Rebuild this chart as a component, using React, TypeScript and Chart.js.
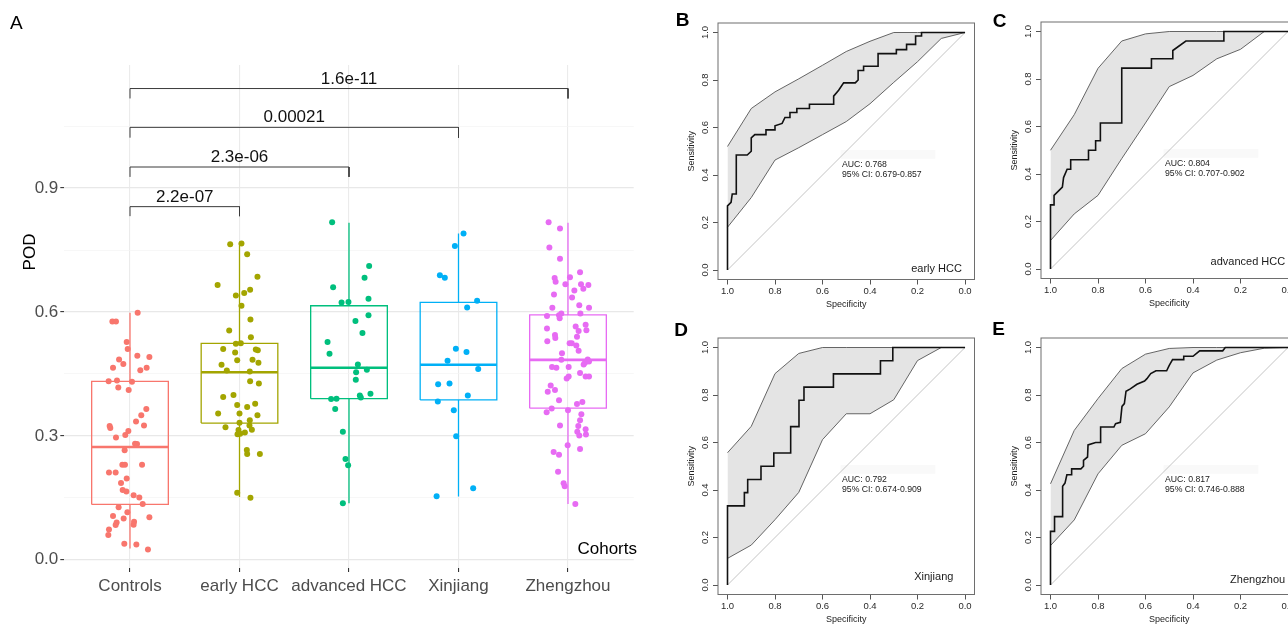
import React, { useEffect, useRef } from "react";
import { Chart, registerables } from "chart.js";
Chart.register(...registerables);

const FONT = "'Liberation Sans', Arial, Helvetica, sans-serif";

// ---------------- Panel A data ----------------
const CATEGORIES = ["Controls", "early HCC", "advanced HCC", "Xinjiang", "Zhengzhou"];
const GROUP_COLORS = ["#F8766D", "#A3A500", "#00BF7D", "#00B0F6", "#E76BF3"];
const Q1 = [0.134, 0.331, 0.39, 0.387, 0.367];
const MEDIAN = [0.273, 0.454, 0.465, 0.472, 0.484];
const Q3 = [0.432, 0.524, 0.615, 0.623, 0.593];
const WHISKER_LOW = [0.027, 0.152, 0.137, 0.153, 0.135];
const WHISKER_HIGH = [0.598, 0.766, 0.816, 0.79, 0.816];

const CONTROLS_POD = [0.598,0.577,0.577,0.527,0.51,0.494,0.491,0.485,0.474,0.465,0.465,0.459,0.432,0.434,0.431,0.417,0.411,0.365,0.35,0.335,0.324,0.319,0.325,0.312,0.302,0.296,0.281,0.28,0.265,0.23,0.23,0.23,0.211,0.211,0.197,0.186,0.169,0.165,0.156,0.151,0.135,0.127,0.115,0.106,0.1,0.103,0.09,0.092,0.084,0.085,0.073,0.06,0.039,0.037,0.025];
const CONTROLS_JITTER = [0.07,-0.161,-0.128,-0.03,-0.021,0.067,0.177,-0.1,-0.061,-0.155,0.152,0.094,-0.195,-0.119,0.018,-0.107,-0.012,0.149,0.103,0.055,-0.186,-0.18,0.128,-0.015,-0.043,-0.128,0.046,0.064,-0.049,-0.07,-0.046,0.11,-0.192,-0.131,-0.03,-0.082,-0.067,-0.033,0.033,0.085,0.116,-0.104,-0.024,-0.155,-0.058,0.177,-0.122,0.037,-0.131,0.033,-0.192,-0.198,-0.052,0.058,0.164];

const EARLY_POD = [0.764,0.766,0.74,0.685,0.665,0.64,0.646,0.654,0.615,0.582,0.555,0.539,0.523,0.524,0.51,0.502,0.509,0.507,0.483,0.484,0.477,0.472,0.458,0.456,0.432,0.427,0.399,0.394,0.378,0.375,0.37,0.354,0.354,0.35,0.338,0.332,0.321,0.325,0.315,0.314,0.304,0.305,0.308,0.266,0.256,0.256,0.162,0.15];
const EARLY_JITTER = [-0.085,0.018,0.07,0.164,-0.2,-0.033,0.043,0.097,0.018,0.1,-0.094,0.104,-0.033,0.012,-0.149,-0.04,0.149,0.167,-0.021,0.119,0.173,-0.164,-0.116,0.094,0.097,0.177,-0.055,-0.149,0.143,-0.021,0.07,-0.195,0,0.164,0.094,0,-0.128,0.091,0.113,-0.009,-0.018,0.006,0.049,0.067,0.07,0.186,-0.021,0.1];

const ADVANCED_POD = [0.817,0.711,0.683,0.66,0.623,0.624,0.632,0.592,0.578,0.549,0.527,0.499,0.473,0.454,0.46,0.436,0.398,0.393,0.402,0.389,0.39,0.365,0.31,0.244,0.229,0.137];
const ADVANCED_JITTER = [-0.154,0.184,0.142,-0.145,-0.068,-0.005,0.178,0.178,0.059,0.123,-0.196,-0.178,0.081,0.065,0.163,0.062,0.099,0.108,0.196,-0.163,-0.114,-0.126,-0.056,-0.032,-0.008,-0.056];

const XINJIANG_POD = [0.79,0.76,0.689,0.683,0.627,0.611,0.511,0.503,0.482,0.462,0.425,0.427,0.398,0.383,0.362,0.299,0.173,0.154];
const XINJIANG_JITTER = [0.046,-0.033,-0.17,-0.125,0.17,0.079,-0.024,0.073,-0.1,0.18,-0.186,-0.082,0.085,-0.189,-0.043,-0.021,0.134,-0.2];

const ZHENGZHOU_POD = [0.817,0.802,0.756,0.729,0.696,0.684,0.682,0.673,0.667,0.667,0.665,0.656,0.652,0.642,0.635,0.616,0.61,0.61,0.596,0.592,0.596,0.59,0.585,0.569,0.565,0.56,0.554,0.556,0.544,0.537,0.54,0.529,0.524,0.524,0.519,0.506,0.5,0.484,0.485,0.467,0.465,0.467,0.473,0.477,0.48,0.452,0.444,0.444,0.444,0.439,0.422,0.411,0.407,0.386,0.377,0.382,0.366,0.357,0.362,0.352,0.338,0.324,0.325,0.316,0.31,0.301,0.303,0.277,0.268,0.261,0.254,0.213,0.185,0.178,0.135];
const ZHENGZHOU_JITTER = [-0.177,-0.073,-0.17,-0.073,0.11,0.018,-0.122,-0.113,-0.024,0.119,0.186,0.14,0.058,-0.128,0.037,0.103,-0.143,0.192,-0.061,-0.082,0.113,-0.192,-0.076,0.161,0.07,-0.192,0.097,0.168,-0.119,-0.116,0.082,-0.189,0.015,0.034,0.076,0.097,-0.055,-0.061,0.18,-0.146,-0.106,0.006,0.143,0.155,0.192,0.11,0.161,0.192,0.006,-0.012,-0.158,-0.119,-0.185,-0.082,0.082,0.131,-0.149,-0.195,0,0.122,0.11,0.094,-0.073,0.161,0.085,0.103,0.164,-0.003,0.11,-0.131,-0.082,-0.091,-0.04,-0.03,0.067];

const GROUP_POD = [CONTROLS_POD, EARLY_POD, ADVANCED_POD, XINJIANG_POD, ZHENGZHOU_POD];
const GROUP_JITTER = [CONTROLS_JITTER, EARLY_JITTER, ADVANCED_JITTER, XINJIANG_JITTER, ZHENGZHOU_JITTER];

const BRACKET_TARGETS = [1, 2, 3, 4];
const BRACKET_TOPS = [0.855, 0.951, 1.047, 1.141];
const BRACKET_ENDS = [0.832, 0.927, 1.022, 1.117];
const P_VALUES = ["2.2e-07", "2.3e-06", "0.00021", "1.6e-11"];

const Y_TICKS_A = [0, 0.15, 0.3, 0.45, 0.6, 0.75, 0.9, 1.05];
const BOX_HALF_WIDTH = 0.35;

// ---------------- ROC data ----------------
const CI_SPEC = [1.0, 0.9, 0.8, 0.7, 0.6, 0.5, 0.4, 0.3, 0.2, 0.1, 0.0];
const ROC_TICKS = [0, 0.2, 0.4, 0.6, 0.8, 1.0];

const B_SPEC = [1,1,0.985,0.98,0.963,0.963,0.917,0.9,0.9,0.885,0.838,0.838,0.8,0.8,0.77,0.758,0.74,0.737,0.71,0.708,0.655,0.655,0.553,0.553,0.532,0.511,0.462,0.45,0.45,0.427,0.427,0.366,0.366,0.289,0.289,0.246,0.246,0.208,0.208,0.183,0.183,0];
const B_SENS = [0,0.27,0.285,0.32,0.32,0.484,0.484,0.5,0.556,0.57,0.57,0.59,0.59,0.607,0.617,0.642,0.642,0.663,0.663,0.68,0.68,0.698,0.698,0.732,0.757,0.788,0.788,0.8,0.84,0.84,0.858,0.858,0.911,0.911,0.928,0.928,0.95,0.95,0.985,0.985,1,1];
const B_UPPER = [0.52,0.68,0.75,0.805,0.862,0.92,0.963,1,1,1,1];
const B_LOWER = [0.18,0.305,0.463,0.515,0.57,0.625,0.7,0.79,0.877,0.975,1];

const C_SPEC = [1,1,0.985,0.985,0.95,0.945,0.93,0.915,0.915,0.84,0.84,0.81,0.81,0.79,0.79,0.7,0.7,0.575,0.575,0.485,0.485,0.43,0.27,0.27,0];
const C_SENS = [0,0.27,0.27,0.31,0.345,0.385,0.42,0.42,0.46,0.46,0.5,0.5,0.54,0.54,0.615,0.615,0.846,0.846,0.885,0.885,0.92,0.96,0.96,1,1];
const C_UPPER = [0.5,0.65,0.845,0.96,0.99,1,1,1,1,1,1];
const C_LOWER = [0.12,0.232,0.31,0.465,0.615,0.768,0.815,0.885,0.925,1,1];

const D_SPEC = [1,1,0.929,0.929,0.915,0.915,0.859,0.859,0.805,0.805,0.734,0.734,0.699,0.699,0.678,0.678,0.554,0.554,0.356,0.356,0.304,0.304,0];
const D_SENS = [0,0.333,0.333,0.389,0.389,0.444,0.444,0.5,0.5,0.556,0.556,0.667,0.667,0.778,0.778,0.833,0.833,0.889,0.889,0.944,0.944,1,1];
const D_UPPER = [0.557,0.668,0.89,0.975,1,1,1,1,1,1,1];
const D_LOWER = [0.112,0.168,0.275,0.39,0.612,0.721,0.721,0.78,0.945,1,1];

const E_SPEC = [1,1,0.983,0.983,0.949,0.949,0.939,0.931,0.911,0.911,0.872,0.861,0.861,0.844,0.842,0.81,0.789,0.789,0.733,0.726,0.706,0.699,0.689,0.682,0.664,0.636,0.604,0.594,0.578,0.556,0.511,0.5,0.486,0.439,0.439,0.4,0.372,0.275,0.264,0];
const E_SENS = [0,0.226,0.226,0.288,0.288,0.416,0.429,0.464,0.464,0.489,0.489,0.5,0.525,0.539,0.59,0.6,0.6,0.665,0.665,0.679,0.685,0.752,0.764,0.816,0.826,0.845,0.859,0.869,0.89,0.902,0.902,0.925,0.949,0.949,0.963,0.963,0.986,0.986,1,1];
const E_UPPER = [0.426,0.651,0.785,0.911,0.972,0.996,1,1,1,1,1];
const E_LOWER = [0.166,0.274,0.468,0.588,0.637,0.75,0.893,0.947,0.978,0.997,1];

const AUC_TEXT = ["AUC: 0.768", "AUC: 0.804", "AUC: 0.792", "AUC: 0.817"];
const CI_TEXT = ["95% CI: 0.679-0.857", "95% CI: 0.707-0.902", "95% CI: 0.674-0.909", "95% CI: 0.746-0.888"];
const ROC_LABELS = ["early HCC", "advanced HCC", "Xinjiang", "Zhengzhou"];
const PANEL_LETTERS = ["B", "C", "D", "E"];

// ---------------- Panel A ----------------
function BoxPanel() {
  const ref = useRef<HTMLCanvasElement>(null);
  useEffect(() => {
    const datasets: any[] = [];
    GROUP_POD.forEach((vals, g) => {
      datasets.push({
        data: vals.map((v, i) => ({ x: g + GROUP_JITTER[g][i], y: v })),
        showLine: false,
        pointRadius: 3,
        pointHoverRadius: 3,
        pointBorderWidth: 0,
        pointBackgroundColor: GROUP_COLORS[g],
        borderColor: GROUP_COLORS[g],
      });
    });
    MEDIAN.forEach((m, g) => {
      datasets.push({
        data: [{ x: g - BOX_HALF_WIDTH, y: m }, { x: g + BOX_HALF_WIDTH, y: m }],
        borderColor: GROUP_COLORS[g],
        borderWidth: 2.6,
        pointRadius: 0,
        borderCapStyle: "butt",
      });
    });
    Q1.forEach((q1, g) => {
      const q3 = Q3[g];
      const l = g - BOX_HALF_WIDTH, r = g + BOX_HALF_WIDTH;
      datasets.push({
        data: [
          { x: g, y: WHISKER_LOW[g] }, { x: g, y: q1 }, { x: g, y: null },
          { x: l, y: q1 }, { x: r, y: q1 }, { x: r, y: q3 }, { x: l, y: q3 }, { x: l, y: q1 }, { x: g, y: null },
          { x: g, y: q3 }, { x: g, y: WHISKER_HIGH[g] },
        ],
        borderColor: GROUP_COLORS[g],
        borderWidth: 1.3,
        pointRadius: 0,
        spanGaps: false,
        borderJoinStyle: "miter",
      });
    });
    BRACKET_TARGETS.forEach((t, k) => {
      datasets.push({
        data: [{ x: 0, y: BRACKET_ENDS[k] }, { x: 0, y: BRACKET_TOPS[k] }, { x: t, y: BRACKET_TOPS[k] }, { x: t, y: BRACKET_ENDS[k] }],
        borderColor: "#3a3a3a",
        borderWidth: 1,
        pointRadius: 0,
      });
    });

    const decor = {
      id: "decorA",
      afterDraw(chart: any) {
        const { ctx } = chart;
        const xs = chart.scales.x, ys = chart.scales.y;
        ctx.save();
        ctx.fillStyle = "#111";
        ctx.font = `17px ${FONT}`;
        ctx.textAlign = "center";
        ctx.textBaseline = "alphabetic";
        BRACKET_TARGETS.forEach((t, k) => {
          ctx.fillText(P_VALUES[k], xs.getPixelForValue(t / 2), ys.getPixelForValue(BRACKET_TOPS[k]) - 5);
        });
        ctx.fillStyle = "#000";
        ctx.font = `19px ${FONT}`;
        ctx.textAlign = "left";
        ctx.textBaseline = "middle";
        ctx.fillText("A", 10, 24);
        ctx.font = `17px ${FONT}`;
        ctx.textAlign = "right";
        ctx.fillText("Cohorts", 637, 549);
        ctx.translate(30, 252);
        ctx.rotate(-Math.PI / 2);
        ctx.textAlign = "center";
        ctx.fillText("POD", 0, 0);
        ctx.restore();
      },
    };

    const isMajor = (v: number) => Math.round(v * 100) % 30 === 0;
    const chart = new Chart(ref.current as HTMLCanvasElement, {
      type: "line",
      data: { datasets },
      options: {
        responsive: false,
        maintainAspectRatio: false,
        animation: false,
        events: [],
        layout: { padding: { left: 4.3, right: 26.3, top: 65, bottom: 17 } },
        plugins: { legend: { display: false }, tooltip: { enabled: false } },
        scales: {
          x: {
            type: "linear",
            min: -0.6,
            max: 4.6,
            afterBuildTicks: (s: any) => { s.ticks = CATEGORIES.map((_, i) => ({ value: i })); },
            afterFit: (s: any) => { s.height = 40; },
            ticks: {
              callback: (v: any) => CATEGORIES[Math.round(Number(v))] ?? "",
              font: { family: FONT, size: 17 },
              color: "#4d4d4d",
              padding: 4.5,
              maxRotation: 0,
              minRotation: 0,
              autoSkip: false,
            },
            grid: { color: "#ebebeb", lineWidth: 1.1, tickLength: 4, tickColor: "#333", tickWidth: 1.1 },
            border: { display: false },
          },
          y: {
            type: "linear",
            min: -0.02,
            max: 1.198,
            afterBuildTicks: (s: any) => { s.ticks = Y_TICKS_A.map((v) => ({ value: v })); },
            afterFit: (s: any) => { s.width = 60; },
            ticks: {
              callback: (v: any) => (isMajor(Number(v)) ? Number(v).toFixed(1) : ""),
              font: { family: FONT, size: 17 },
              color: "#4d4d4d",
              padding: 2,
              autoSkip: false,
            },
            grid: {
              color: (c: any) => (c.tick && isMajor(c.tick.value) ? "#e8e8e8" : "#f3f3f3"),
              lineWidth: (c: any) => (c.tick && isMajor(c.tick.value) ? 1.2 : 0.7),
              tickLength: 4,
              tickColor: (c: any) => (c.tick && isMajor(c.tick.value) ? "#333" : "rgba(0,0,0,0)"),
              tickWidth: 1.1,
            },
            border: { display: false },
          },
        },
      } as any,
      plugins: [decor],
    });
    return () => chart.destroy();
  }, []);
  return (
    <canvas
      ref={ref}
      width={660}
      height={625}
      style={{ position: "absolute", left: 0, top: 0, width: 660, height: 625 }}
    />
  );
}

// ---------------- ROC panels ----------------
type RocCfg = {
  idx: number;
  spec: number[];
  sens: number[];
  upper: number[];
  lower: number[];
  frameLeft: number;
  frameTop: number;
  letterX: number;
  letterY: number;
  labelSpec: number;
  labelSens: number;
};

const ROC_PANELS: RocCfg[] = [
  { idx: 0, spec: B_SPEC, sens: B_SENS, upper: B_UPPER, lower: B_LOWER, frameLeft: 717.8, frameTop: 22.8, letterX: 682.5, letterY: 21, labelSpec: 0.013, labelSens: 0.005 },
  { idx: 1, spec: C_SPEC, sens: C_SENS, upper: C_UPPER, lower: C_LOWER, frameLeft: 1041, frameTop: 21.5, letterX: 999.5, letterY: 21, labelSpec: 0.012, labelSens: 0.03 },
  { idx: 2, spec: D_SPEC, sens: D_SENS, upper: D_UPPER, lower: D_LOWER, frameLeft: 717.8, frameTop: 337.8, letterX: 681, letterY: 331, labelSpec: 0.049, labelSens: 0.032 },
  { idx: 3, spec: E_SPEC, sens: E_SENS, upper: E_UPPER, lower: E_LOWER, frameLeft: 1041, frameTop: 337.8, letterX: 998.5, letterY: 329.5, labelSpec: 0.012, labelSens: 0.02 },
];

const ROC_W = 330, ROC_H = 320, ROC_AXW = 58, ROC_TOP = 22, ROC_SIDE = 256.5, ROC_XAXH = 34;

function RocPanel({ cfg }: { cfg: RocCfg }) {
  const ref = useRef<HTMLCanvasElement>(null);
  const canvasLeft = cfg.frameLeft - ROC_AXW;
  const canvasTop = cfg.frameTop - ROC_TOP;
  useEffect(() => {
    const decor = {
      id: "rocDecor",
      beforeDatasetsDraw(chart: any) {
        const { ctx } = chart;
        const xs = chart.scales.x, ys = chart.scales.y;
        ctx.save();
        ctx.fillStyle = "#f9f9f9";
        const x1 = xs.getPixelForValue(0.524), x2 = xs.getPixelForValue(0.125);
        const y1 = ys.getPixelForValue(0.505), y2 = ys.getPixelForValue(0.468);
        ctx.fillRect(x1, y1, x2 - x1, y2 - y1);
        ctx.restore();
      },
      afterDraw(chart: any) {
        const { ctx, chartArea } = chart;
        const xs = chart.scales.x, ys = chart.scales.y;
        ctx.save();
        ctx.strokeStyle = "#6e6e6e";
        ctx.lineWidth = 1;
        ctx.strokeRect(chartArea.left, chartArea.top, chartArea.right - chartArea.left, chartArea.bottom - chartArea.top);
        ctx.fillStyle = "#2a2a2a";
        ctx.font = `9.5px ${FONT}`;
        ctx.textAlign = "center";
        ctx.textBaseline = "middle";
        ROC_TICKS.forEach((v) => {
          ctx.save();
          ctx.translate(chartArea.left - 13, ys.getPixelForValue(v));
          ctx.rotate(-Math.PI / 2);
          ctx.fillText(v.toFixed(1), 0, 0);
          ctx.restore();
        });
        ctx.font = `8.7px ${FONT}`;
        ctx.textAlign = "left";
        ctx.fillStyle = "#222";
        ctx.fillText(AUC_TEXT[cfg.idx], xs.getPixelForValue(0.518), ys.getPixelForValue(0.445));
        ctx.fillText(CI_TEXT[cfg.idx], xs.getPixelForValue(0.518), ys.getPixelForValue(0.4));
        ctx.font = `11px ${FONT}`;
        ctx.textAlign = "right";
        ctx.fillStyle = "#1a1a1a";
        ctx.fillText(ROC_LABELS[cfg.idx], xs.getPixelForValue(cfg.labelSpec), ys.getPixelForValue(cfg.labelSens));
        ctx.font = `bold 19px ${FONT}`;
        ctx.textAlign = "center";
        ctx.fillStyle = "#000";
        ctx.fillText(PANEL_LETTERS[cfg.idx], cfg.letterX - canvasLeft, cfg.letterY - canvasTop);
        ctx.restore();
      },
    };

    const axisCommon = {
      type: "linear",
      min: -0.04,
      max: 1.04,
      afterBuildTicks: (s: any) => { s.ticks = ROC_TICKS.map((v) => ({ value: v })); },
      grid: { drawOnChartArea: false, drawTicks: true, tickLength: 5, tickColor: "#555", tickWidth: 1 },
      border: { display: false },
    };

    const chart = new Chart(ref.current as HTMLCanvasElement, {
      type: "line",
      data: {
        datasets: [
          {
            data: cfg.spec.map((s, i) => ({ x: s, y: cfg.sens[i] })),
            borderColor: "#111",
            borderWidth: 1.6,
            pointRadius: 0,
            fill: false,
            tension: 0,
          },
          {
            data: CI_SPEC.map((s, i) => ({ x: s, y: cfg.upper[i] })),
            borderColor: "#555",
            borderWidth: 0.9,
            pointRadius: 0,
            fill: false,
            tension: 0,
          },
          {
            data: CI_SPEC.map((s, i) => ({ x: s, y: cfg.lower[i] })),
            borderColor: "#555",
            borderWidth: 0.9,
            pointRadius: 0,
            fill: "-1",
            backgroundColor: "#e4e4e4",
            tension: 0,
          },
          {
            data: [{ x: 1, y: 0 }, { x: 0, y: 1 }],
            borderColor: "#c4c4c4",
            borderWidth: 1,
            pointRadius: 0,
            fill: false,
          },
        ],
      },
      options: {
        responsive: false,
        maintainAspectRatio: false,
        animation: false,
        events: [],
        layout: {
          padding: {
            left: 0,
            top: ROC_TOP,
            right: ROC_W - ROC_AXW - ROC_SIDE,
            bottom: ROC_H - ROC_TOP - ROC_SIDE - ROC_XAXH,
          },
        },
        plugins: { legend: { display: false }, tooltip: { enabled: false } },
        scales: {
          x: {
            ...axisCommon,
            reverse: true,
            afterFit: (s: any) => { s.height = ROC_XAXH; },
            ticks: {
              callback: (v: any) => Number(v).toFixed(1),
              font: { family: FONT, size: 9.5 },
              color: "#2a2a2a",
              padding: 1.5,
              maxRotation: 0,
              minRotation: 0,
              autoSkip: false,
            },
            title: {
              display: true,
              text: "Specificity",
              font: { family: FONT, size: 9 },
              color: "#222",
              padding: { top: 0, bottom: 3.6 },
            },
          },
          y: {
            ...axisCommon,
            afterFit: (s: any) => { s.width = ROC_AXW; },
            ticks: { display: false },
            title: {
              display: true,
              text: "Sensitivity",
              font: { family: FONT, size: 9 },
              color: "#222",
              padding: { top: 26.5, bottom: 0 },
            },
          },
        },
      } as any,
      plugins: [decor],
    });
    return () => chart.destroy();
  }, []);
  return (
    <canvas
      ref={ref}
      width={ROC_W}
      height={ROC_H}
      style={{ position: "absolute", left: canvasLeft, top: canvasTop, width: ROC_W, height: ROC_H }}
    />
  );
}

export default function App() {
  return (
    <div
      style={{
        position: "absolute",
        left: 0,
        top: 0,
        width: 1288,
        height: 625,
        overflow: "hidden",
        background: "#ffffff",
      }}
    >
      <BoxPanel />
      {ROC_PANELS.map((cfg) => (
        <RocPanel key={cfg.idx} cfg={cfg} />
      ))}
    </div>
  );
}
